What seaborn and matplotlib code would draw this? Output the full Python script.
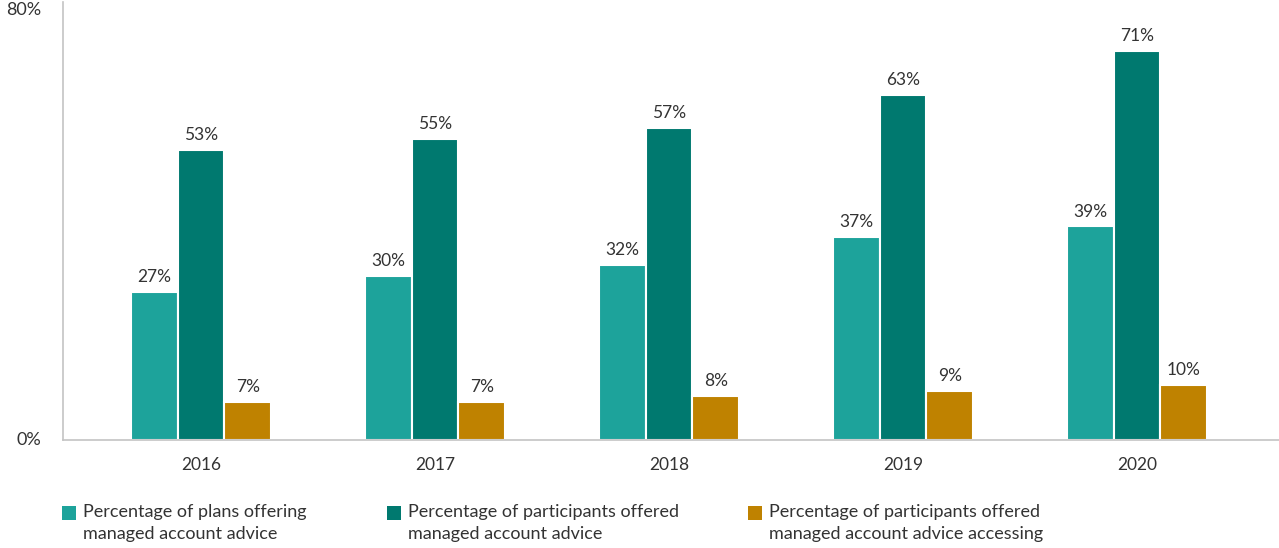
import matplotlib
matplotlib.use("Agg")
import matplotlib.pyplot as plt
import seaborn as sns
import pandas as pd
from matplotlib.patches import Rectangle

years = ["2016", "2017", "2018", "2019", "2020"]
series_names = [
    "Percentage of plans offering\nmanaged account advice",
    "Percentage of participants offered\nmanaged account advice",
    "Percentage of participants offered\nmanaged account advice accessing",
]
plans_offering = [27, 30, 32, 37, 39]
participants_offered = [53, 55, 57, 63, 71]
participants_accessing = [7, 7, 8, 9, 10]
colors = ["#1DA39B", "#00796F", "#BF8200"]

rows = []
for name, vals in zip(series_names, [plans_offering, participants_offered, participants_accessing]):
    for y, v in zip(years, vals):
        rows.append({"year": y, "series": name, "value": v})
df = pd.DataFrame(rows)

sns.set_theme(style="white")
plt.rcParams["font.family"] = ["Lato", "DejaVu Sans"]
text_color = "#333333"

W, H = 1279, 548
fig = plt.figure(figsize=(W / 100, H / 100), dpi=100)
ax = fig.add_axes([63 / W, 1 - 440 / H, (W - 63) / W, 438 / H])

sns.barplot(data=df, x="year", y="value", hue="series", palette=colors,
            width=0.6, ax=ax, edgecolor="white", linewidth=1.5, legend=False,
            saturation=1)

for cont in ax.containers:
    ax.bar_label(cont, labels=[f"{int(v)}%" for v in cont.datavalues],
                 padding=5, fontsize=12.5, color=text_color)

ax.set_ylim(0, 80)
ax.set_xlim(-0.59, 4.607)
ax.set_yticks([0, 80])
ax.set_yticklabels(["0%", "80%"], fontsize=13, color=text_color)
for lbl in ax.get_yticklabels():
    lbl.set_verticalalignment("top" if lbl.get_text() == "80%" else "center")
ax.tick_params(axis="y", length=0, pad=16)
ax.tick_params(axis="x", length=0, pad=12, labelsize=12.5, labelcolor=text_color)
ax.set_xlabel("")
ax.set_ylabel("")
for s in ["top", "right"]:
    ax.spines[s].set_visible(False)
for s in ["left", "bottom"]:
    ax.spines[s].set_color("#c4c4c4")
    ax.spines[s].set_linewidth(1.2)

# Legend drawn manually: square marker aligned with the first text line
marker_x = [62, 387, 748]
for mx, name, c in zip(marker_x, series_names, colors):
    fig.patches.append(Rectangle((mx / W, 1 - 520 / H), 14 / W, 14 / H,
                                 transform=fig.transFigure, facecolor=c,
                                 edgecolor="none"))
    fig.text((mx + 21) / W, 1 - 504 / H, name, ha="left", va="top",
             fontsize=13, color=text_color, linespacing=1.45)

fig.savefig("out.png", dpi=100)
